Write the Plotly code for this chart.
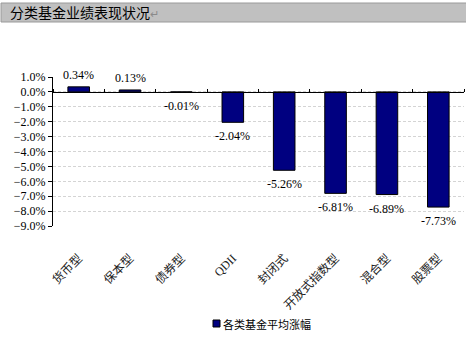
import plotly.graph_objects as go

# Fund categories and their average return (%)
categories = ["货币型", "保本型", "债券型", "QDII", "封闭式", "开放式指数型", "混合型", "股票型"]
returns = [0.34, 0.13, -0.01, -2.04, -5.26, -6.81, -6.89, -7.73]
series_name = "各类基金平均涨幅"
title_text = "分类基金业绩表现状况"

W, H = 466, 337
ML, MR, MT, MB = 53, 2, 77, 111
PW, PH = W - ML - MR, H - MT - MB


def px_x(x):
    return (x - ML) / PW


def px_y(y):
    return (H - MB - y) / PH


serif = "Liberation Serif, Times New Roman, Noto Sans CJK SC"
cjk = "Noto Sans CJK SC, sans-serif"
bar_fill = "#000080"

fig = go.Figure()
fig.add_trace(go.Bar(
    x=categories, y=returns, name=series_name,
    marker=dict(color=bar_fill, line=dict(color="#000000", width=1)),
    width=0.42, showlegend=False,
))
# carrier for the category axis drawn along zero
fig.add_trace(go.Scatter(
    x=categories, y=[0] * len(categories), xaxis="x2", mode="markers",
    marker=dict(opacity=0), showlegend=False, hoverinfo="skip",
))

# value labels: above positive bars, below negative ones
for cat, v in zip(categories, returns):
    fig.add_annotation(
        x=cat, y=v, xref="x", yref="y", showarrow=False,
        text=f"{v:.2f}%", yanchor="middle",
        yshift=12 if v >= 0 else -14,
        font=dict(family=serif, size=12, color="#000000"),
    )

fig.update_layout(
    width=W, height=H,
    margin=dict(l=ML, r=MR, t=MT, b=MB),
    paper_bgcolor="white", plot_bgcolor="white",
    showlegend=False,
    xaxis=dict(
        type="category", categoryorder="array", categoryarray=categories,
        showline=False, ticks="", showgrid=False,
        tickangle=-45, ticklabelstandoff=22,
        tickfont=dict(family=serif, size=12, color="#222222"),
    ),
    xaxis2=dict(
        type="category", categoryorder="array", categoryarray=categories,
        overlaying="x", anchor="free", position=px_y(92),
        side="top", showline=True, linecolor="#000000", linewidth=1,
        ticks="outside", ticklen=3, tickcolor="#000000", tickson="boundaries",
        showticklabels=False, showgrid=False, matches="x",
    ),
    yaxis=dict(
        range=[-9, 1], dtick=1, tick0=0,
        tickformat=".1f", ticksuffix="%",
        showline=True, linecolor="#000000", linewidth=1,
        ticks="outside", ticklen=4, tickcolor="#000000",
        showgrid=True, gridcolor="#d4d4d4", griddash="3px,2px", gridwidth=1,
        zeroline=False,
        tickfont=dict(family=serif, size=12, color="#000000"),
    ),
)

# Heading band across the top
fig.add_shape(type="rect", xref="paper", yref="paper",
              x0=px_x(1), x1=px_x(470), y0=px_y(22), y1=px_y(3),
              fillcolor="#c0c0c0", line=dict(color="#9a9a9a", width=1), layer="below")
fig.add_annotation(xref="paper", yref="paper", x=px_x(8), y=px_y(12.5),
                   xanchor="left", yanchor="middle", showarrow=False,
                   text=title_text + "<span style='color:#8a8a8a;font-size:11px'>↵</span>",
                   font=dict(family=cjk, size=14, color="#000000"))

# Series key below the chart
fig.add_shape(type="rect", xref="paper", yref="paper",
              x0=px_x(213), x1=px_x(220), y0=px_y(327), y1=px_y(320),
              fillcolor=bar_fill, line=dict(color="#000000", width=1))
fig.add_annotation(xref="paper", yref="paper", x=px_x(221), y=px_y(323.5),
                   xanchor="left", yanchor="middle", showarrow=False,
                   text=series_name,
                   font=dict(family=cjk, size=11, color="#000000"))

fig.write_html("out.html")
